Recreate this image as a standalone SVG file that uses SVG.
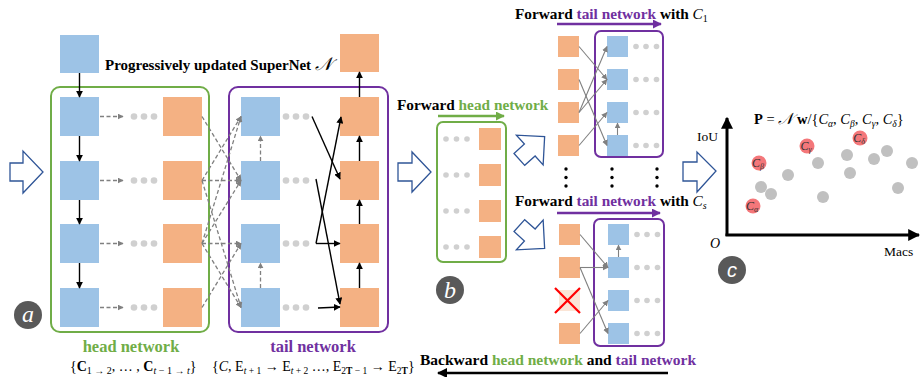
<svg xmlns="http://www.w3.org/2000/svg" width="920" height="377" viewBox="0 0 920 377">
<defs>
<style>
.bl{fill:#9dc3e6}
.or{fill:#f4b183}
.dot{fill:#d0d0d0}
.vd{fill:#000}
.dash{stroke:#808080;stroke-width:1.3;stroke-dasharray:4 2.5;fill:none;marker-end:url(#mg)}
.blk{stroke:#000;stroke-width:1.4;fill:none;marker-end:url(#mb)}
.gry{stroke:#808080;stroke-width:1.1;fill:none;marker-end:url(#mg2)}
.hollow{fill:#fff;stroke:#2f5597;stroke-width:1.3;stroke-linejoin:miter}
.t{font-family:"Liberation Serif","DejaVu Serif",serif}
.b{font-weight:bold}
.g{fill:#70ad47}
.p{fill:#7030a0}
.lab{fill:#595959}
.lt{font-family:"Liberation Serif",serif;font-style:italic;fill:#fff;font-size:24px;text-anchor:middle}
.gc{fill:#c0c0c0}
.rc{fill:#f4777a}
.rl{font-family:"Liberation Serif",serif;font-style:italic;font-size:12px;fill:#333;text-anchor:middle}
</style>
<marker id="mg" viewBox="0 0 10 10" refX="9" refY="5" markerWidth="6" markerHeight="6" orient="auto" markerUnits="userSpaceOnUse"><path d="M0,0 L10,5 L0,10 Z" fill="#808080"/></marker>
<marker id="mg2" viewBox="0 0 10 10" refX="9" refY="5" markerWidth="6" markerHeight="6" orient="auto" markerUnits="userSpaceOnUse"><path d="M0,0 L10,5 L0,10 Z" fill="#808080"/></marker>
<marker id="mb" viewBox="0 0 10 10" refX="9" refY="5" markerWidth="7" markerHeight="7" orient="auto" markerUnits="userSpaceOnUse"><path d="M0,0 L10,5 L0,10 Z" fill="#000"/></marker>
<marker id="mgr" viewBox="0 0 10 10" refX="9" refY="5" markerWidth="9" markerHeight="9" orient="auto" markerUnits="userSpaceOnUse"><path d="M0,0 L10,5 L0,10 Z" fill="#70ad47"/></marker>
<marker id="mpu" viewBox="0 0 10 10" refX="9" refY="5" markerWidth="9" markerHeight="9" orient="auto" markerUnits="userSpaceOnUse"><path d="M0,0 L10,5 L0,10 Z" fill="#7030a0"/></marker>
<marker id="mbk" viewBox="0 0 10 10" refX="9" refY="5" markerWidth="10" markerHeight="10" orient="auto" markerUnits="userSpaceOnUse"><path d="M0,0 L10,5 L0,10 Z" fill="#000"/></marker>
<marker id="max" viewBox="0 0 10 10" refX="9" refY="5" markerWidth="12" markerHeight="12" orient="auto" markerUnits="userSpaceOnUse"><path d="M0,0 L10,5 L0,10 Z" fill="#000"/></marker>
<path id="diag" d="M-17,-8 H-3 V-20 L17,0 L-3,20 V8 H-17 Z"/>
</defs>

<!-- ===== Panel a ===== -->
<g id="supernet-title"><text class="t b" x="105" y="70" font-size="15">Progressively updated SuperNet <tspan font-family="'DejaVu Sans','Noto Sans',serif" font-style="italic" font-weight="normal" font-size="18">𝒩</tspan></text></g>
<g id="input-block"><rect class="bl" x="60" y="35" width="39" height="38"/></g>
<g id="output-block"><rect class="or" x="340" y="34" width="39" height="38"/></g>

<g id="head-network">
<rect x="51" y="87" width="158" height="245" rx="9" fill="none" stroke="#70ad47" stroke-width="2"/>
<rect class="bl" x="60" y="97" width="39" height="39"/>
<rect class="bl" x="60" y="161" width="39" height="39"/>
<rect class="bl" x="60" y="224" width="39" height="39"/>
<rect class="bl" x="60" y="288" width="39" height="39"/>
<rect class="or" x="163" y="97" width="39" height="39"/>
<rect class="or" x="163" y="161" width="39" height="39"/>
<rect class="or" x="163" y="224" width="39" height="39"/>
<rect class="or" x="163" y="288" width="39" height="39"/>
<g class="dot">
<circle cx="134" cy="116.5" r="3.3"/><circle cx="144" cy="116.5" r="3.3"/><circle cx="154" cy="116.5" r="3.3"/>
<circle cx="134" cy="180.5" r="3.3"/><circle cx="144" cy="180.5" r="3.3"/><circle cx="154" cy="180.5" r="3.3"/>
<circle cx="134" cy="243.5" r="3.3"/><circle cx="144" cy="243.5" r="3.3"/><circle cx="154" cy="243.5" r="3.3"/>
<circle cx="134" cy="307.5" r="3.3"/><circle cx="144" cy="307.5" r="3.3"/><circle cx="154" cy="307.5" r="3.3"/>
</g>
<text class="t b g" x="131" y="352" font-size="16.5" text-anchor="middle">head network</text>
</g>

<g id="tail-network">
<rect x="229" y="87" width="159" height="245" rx="9" fill="none" stroke="#7030a0" stroke-width="2"/>
<rect class="bl" x="241" y="97" width="39" height="39"/>
<rect class="bl" x="241" y="161" width="39" height="39"/>
<rect class="bl" x="241" y="224" width="39" height="39"/>
<rect class="bl" x="241" y="288" width="39" height="39"/>
<rect class="or" x="340" y="97" width="39" height="39"/>
<rect class="or" x="340" y="161" width="39" height="39"/>
<rect class="or" x="340" y="224" width="39" height="39"/>
<rect class="or" x="340" y="288" width="39" height="39"/>
<g class="dot">
<circle cx="286" cy="116.5" r="3.3"/><circle cx="296" cy="116.5" r="3.3"/><circle cx="306" cy="116.5" r="3.3"/>
<circle cx="286" cy="180.5" r="3.3"/><circle cx="296" cy="180.5" r="3.3"/><circle cx="306" cy="180.5" r="3.3"/>
<circle cx="286" cy="243.5" r="3.3"/><circle cx="296" cy="243.5" r="3.3"/><circle cx="306" cy="243.5" r="3.3"/>
<circle cx="286" cy="307.5" r="3.3"/><circle cx="296" cy="307.5" r="3.3"/><circle cx="306" cy="307.5" r="3.3"/>
</g>
<text class="t b p" x="313" y="352" font-size="16.5" text-anchor="middle">tail network</text>
</g>

<g id="head-set"><text class="t" x="70" y="371" font-size="14">{<tspan font-weight="bold">C</tspan><tspan font-size="10" dy="3">1 → 2</tspan><tspan dy="-3">, … , </tspan><tspan font-weight="bold">C</tspan><tspan font-size="10" dy="3"><tspan font-style="italic">t</tspan> − 1 → <tspan font-style="italic">t</tspan></tspan><tspan dy="-3">}</tspan></text></g>
<g id="tail-set"><text class="t" x="212" y="371" font-size="14">{<tspan font-style="italic">C</tspan>, E<tspan font-size="9.5" dy="3"><tspan font-style="italic">t</tspan> + 1</tspan><tspan dy="-3"> → E</tspan><tspan font-size="9.5" dy="3"><tspan font-style="italic">t</tspan> + 2</tspan><tspan dy="-3"> …, E</tspan><tspan font-size="9.5" dy="3">2<tspan font-weight="bold">T</tspan> − 1</tspan><tspan dy="-3"> → E</tspan><tspan font-size="9.5" dy="3">2<tspan font-weight="bold">T</tspan></tspan><tspan dy="-3">}</tspan></text></g>

<g id="label-a"><circle class="lab" cx="28" cy="315" r="14"/><text class="lt" x="28" y="322">a</text></g>

<!-- ===== Panel b ===== -->
<g id="fwd-head-label">
<text class="t b" x="397" y="110" font-size="15.3">Forward <tspan class="g">head network</tspan></text>
</g>
<g id="head-copy">
<rect x="437" y="122" width="69" height="140" rx="6" fill="none" stroke="#70ad47" stroke-width="2"/>
<rect class="or" x="479" y="128" width="22" height="22"/>
<rect class="or" x="479" y="164" width="22" height="22"/>
<rect class="or" x="479" y="200" width="22" height="22"/>
<rect class="or" x="479" y="236" width="22" height="22"/>
<g class="dot">
<circle cx="446" cy="139" r="2.8"/><circle cx="456.5" cy="139" r="2.8"/><circle cx="467" cy="139" r="2.8"/>
<circle cx="446" cy="175" r="2.8"/><circle cx="456.5" cy="175" r="2.8"/><circle cx="467" cy="175" r="2.8"/>
<circle cx="446" cy="211" r="2.8"/><circle cx="456.5" cy="211" r="2.8"/><circle cx="467" cy="211" r="2.8"/>
<circle cx="446" cy="247" r="2.8"/><circle cx="456.5" cy="247" r="2.8"/><circle cx="467" cy="247" r="2.8"/>
</g>
</g>

<g id="fwd-tail-c1-label">
<text class="t b" x="515" y="19" font-size="15.3">Forward <tspan class="p">tail network</tspan> with <tspan font-style="italic" font-weight="normal">C</tspan><tspan font-weight="normal" font-size="10" dy="3">1</tspan></text>
</g>
<g id="tail-c1">
<rect x="595" y="31" width="68" height="126" rx="6" fill="none" stroke="#7030a0" stroke-width="2"/>
<rect class="or" x="558" y="36" width="21" height="21"/>
<rect class="or" x="558" y="69" width="21" height="21"/>
<rect class="or" x="558" y="102" width="21" height="21"/>
<rect class="or" x="558" y="135" width="21" height="21"/>
<rect class="bl" x="607" y="36" width="21" height="21"/>
<rect class="bl" x="607" y="69" width="21" height="21"/>
<rect class="bl" x="607" y="102" width="21" height="21"/>
<rect class="bl" x="607" y="135" width="21" height="21"/>
<g class="dot">
<circle cx="636" cy="46.5" r="2.8"/><circle cx="646" cy="46.5" r="2.8"/><circle cx="656.5" cy="46.5" r="2.8"/>
<circle cx="636" cy="79.5" r="2.8"/><circle cx="646" cy="79.5" r="2.8"/><circle cx="656.5" cy="79.5" r="2.8"/>
<circle cx="636" cy="112.5" r="2.8"/><circle cx="646" cy="112.5" r="2.8"/><circle cx="656.5" cy="112.5" r="2.8"/>
<circle cx="636" cy="145.5" r="2.8"/><circle cx="646" cy="145.5" r="2.8"/><circle cx="656.5" cy="145.5" r="2.8"/>
</g>
</g>

<g id="vdots" class="vd">
<circle cx="566" cy="169" r="1.7"/><circle cx="566" cy="177.5" r="1.7"/><circle cx="566" cy="186" r="1.7"/>
<circle cx="612" cy="169" r="1.7"/><circle cx="612" cy="177.5" r="1.7"/><circle cx="612" cy="186" r="1.7"/>
<circle cx="657" cy="169" r="1.7"/><circle cx="657" cy="177.5" r="1.7"/><circle cx="657" cy="186" r="1.7"/>
</g>

<g id="fwd-tail-cs-label">
<text class="t b" x="515" y="206" font-size="15.3">Forward <tspan class="p">tail network</tspan> with <tspan font-style="italic" font-weight="normal">C</tspan><tspan font-weight="normal" font-style="italic" font-size="10" dy="3">s</tspan></text>
</g>
<g id="tail-cs">
<rect x="594" y="219" width="70" height="127" rx="6" fill="none" stroke="#7030a0" stroke-width="2"/>
<rect class="or" x="559" y="224" width="21" height="21"/>
<rect class="or" x="559" y="257" width="21" height="21"/>
<rect x="559" y="290" width="21" height="21" fill="#fbe5d6"/>
<rect class="or" x="559" y="323" width="21" height="21"/>
<path d="M555,288 L580,313 M580,288 L555,313" stroke="#ff0000" stroke-width="2.2"/>
<rect class="bl" x="608" y="224" width="21" height="21"/>
<rect class="bl" x="608" y="257" width="21" height="21"/>
<rect class="bl" x="608" y="290" width="21" height="21"/>
<rect class="bl" x="608" y="323" width="21" height="21"/>
<g class="dot">
<circle cx="637" cy="234.5" r="2.8"/><circle cx="647" cy="234.5" r="2.8"/><circle cx="657.5" cy="234.5" r="2.8"/>
<circle cx="637" cy="267.5" r="2.8"/><circle cx="647" cy="267.5" r="2.8"/><circle cx="657.5" cy="267.5" r="2.8"/>
<circle cx="637" cy="300.5" r="2.8"/><circle cx="647" cy="300.5" r="2.8"/><circle cx="657.5" cy="300.5" r="2.8"/>
<circle cx="637" cy="333.5" r="2.8"/><circle cx="647" cy="333.5" r="2.8"/><circle cx="657.5" cy="333.5" r="2.8"/>
</g>
</g>

<g id="backward-label">
<text class="t b" x="420" y="365" font-size="15.5">Backward <tspan class="g">head network</tspan> and <tspan class="p">tail network</tspan></text>
</g>

<g id="label-b"><circle class="lab" cx="450" cy="290" r="14"/><text class="lt" x="450" y="298">b</text></g>

<!-- ===== Panel c ===== -->
<g id="plot">
<line x1="727" y1="236" x2="727" y2="118" stroke="#000" stroke-width="3" marker-end="url(#max)"/>
<line x1="725.5" y1="235" x2="919" y2="235" stroke="#000" stroke-width="3" marker-end="url(#max)"/>
<text class="t" x="697" y="141" font-size="13.5">IoU</text>
<text class="t" x="710" y="248" font-size="14" font-style="italic">O</text>
<text class="t" x="884" y="256" font-size="13.5">Macs</text>
<text class="t" x="754" y="124" font-size="14.5"><tspan font-weight="bold">P</tspan> = <tspan font-family="'DejaVu Sans','Noto Sans',serif" font-style="italic" font-size="16">𝒩</tspan> <tspan font-weight="bold">w</tspan>/{<tspan font-style="italic">C</tspan><tspan font-size="9.5" font-style="italic" dy="3">α</tspan><tspan dy="-3">, </tspan><tspan font-style="italic">C</tspan><tspan font-size="9.5" font-style="italic" dy="3">β</tspan><tspan dy="-3">, </tspan><tspan font-style="italic">C</tspan><tspan font-size="9.5" font-style="italic" dy="3">γ</tspan><tspan dy="-3">, </tspan><tspan font-style="italic">C</tspan><tspan font-size="9.5" font-style="italic" dy="3">δ</tspan><tspan dy="-3">}</tspan></text>
<g class="gc">
<circle cx="761" cy="187" r="6"/><circle cx="771" cy="194" r="6"/><circle cx="788" cy="175" r="6"/>
<circle cx="818" cy="163" r="6"/><circle cx="823" cy="197" r="6"/><circle cx="847" cy="155" r="6"/>
<circle cx="850" cy="173" r="6"/><circle cx="874" cy="159" r="6"/><circle cx="887" cy="151" r="6"/>
<circle cx="898" cy="188" r="6"/><circle cx="912" cy="163" r="6"/>
</g>
<g>
<circle class="rc" cx="753" cy="206" r="7.5"/><text class="rl" x="752" y="210">C<tspan font-size="8" dy="1.5">α</tspan></text>
<circle class="rc" cx="759" cy="163" r="7.5"/><text class="rl" x="758" y="167">C<tspan font-size="8" dy="1.5">β</tspan></text>
<circle class="rc" cx="807" cy="146" r="7.5"/><text class="rl" x="806" y="150">C<tspan font-size="8" dy="1.5">γ</tspan></text>
<circle class="rc" cx="860" cy="138" r="7.5"/><text class="rl" x="859" y="142">C<tspan font-size="8" dy="1.5">δ</tspan></text>
</g>
</g>
<g id="label-c"><circle class="lab" cx="732" cy="270" r="14"/><text x="732" y="277" font-family="'Liberation Sans',sans-serif" font-style="italic" font-size="20" fill="#fff" text-anchor="middle">c</text></g>

<!-- ===== Connectors ===== -->
<g id="connectors">
<path class="hollow" d="M10,163 H23 V151 L43,172 L23,193 V181 H10 Z"/>
<path class="hollow" d="M398,163 H412 V152 L431,172 L412,192 V181 H398 Z"/>
<path class="hollow" d="M683,162 H697 V152 L716,171 L697,192 V181 H683 Z"/>
<use href="#diag" class="hollow" transform="translate(532,148) rotate(-42)"/>
<use href="#diag" class="hollow" transform="translate(532,237) rotate(42)"/>

<path class="blk" d="M79.5,73 V97"/>
<path class="blk" d="M79.5,136 V161"/>
<path class="blk" d="M79.5,200 V224"/>
<path class="blk" d="M79.5,263 V288"/>
<path class="dash" d="M100,116.5 H123"/>
<path class="dash" d="M100,180.5 H123"/>
<path class="dash" d="M100,243.5 H123"/>
<path class="dash" d="M100,307.5 H123"/>
<path class="dash" d="M202,116.5 L241,180.5"/>
<path class="dash" d="M202,180.5 L241,116.5"/>
<path class="dash" d="M202,180.5 L241,180.5"/>
<path class="dash" d="M202,180.5 L241,307.5"/>
<path class="dash" d="M202,243.5 L241,116.5"/>
<path class="dash" d="M202,243.5 L241,180.5"/>
<path class="dash" d="M202,243.5 L241,243.5"/>
<path class="dash" d="M202,243.5 L241,307.5"/>
<path class="dash" d="M202,307.5 L241,243.5"/>
<path class="dash" d="M260.5,161 V136"/>
<path class="dash" d="M260.5,288 V263"/>
<path class="blk" d="M312,116.5 L340,179"/>
<path class="blk" d="M316,179 L340,304"/>
<path class="blk" d="M316,243.5 L340,243.5"/>
<path class="blk" d="M316,243.5 L341,117"/>
<path class="blk" d="M318,308 L340,307"/>
<path class="blk" d="M359.5,288 V263"/>
<path class="blk" d="M359.5,224 V200"/>
<path class="blk" d="M359.5,161 V136"/>
<path class="blk" d="M359.5,97 V72"/>

<path d="M438,116 H504" stroke="#70ad47" stroke-width="2.5" marker-end="url(#mgr)"/>
<path d="M557,24 H661" stroke="#7030a0" stroke-width="2.5" marker-end="url(#mpu)"/>
<path d="M557,213 H660" stroke="#7030a0" stroke-width="2.5" marker-end="url(#mpu)"/>
<path d="M668,373 H438" stroke="#000" stroke-width="2.5" marker-end="url(#mbk)"/>
<path class="gry" d="M579,46.5 L607,79.5"/>
<path class="gry" d="M579,79.5 L607,145.5"/>
<path class="gry" d="M579,112.5 L607,46.5"/>
<path class="gry" d="M579,112.5 L607,79.5"/>
<path class="gry" d="M579,145.5 L607,112.5"/>
<path class="gry" d="M617.5,135 V123"/>
<path class="gry" d="M580,234.5 L608,267.5"/>
<path class="gry" d="M580,267.5 L608,267.5"/>
<path class="gry" d="M580,267.5 L608,333.5"/>
<path class="gry" d="M580,333.5 L608,300.5"/>
<path class="gry" d="M618.5,257 V245"/>
</g>
</svg>
